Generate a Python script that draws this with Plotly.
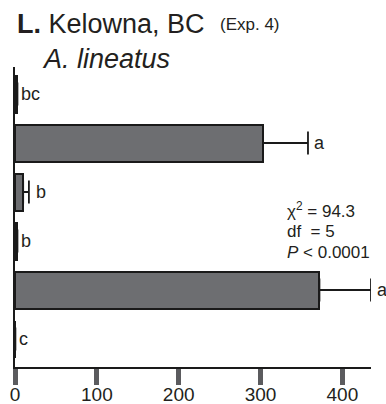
import plotly.graph_objects as go

# Mean catches per treatment (top to bottom) with one-sided SE and letter groups
treatment_pos = [0, 1, 2, 3, 4, 5]
mean_catch = [3, 303, 10, 3, 372, 0.5]
se_catch = [0, 55, 7, 0, 63, 0]
groups = ["bc", "a", "b", "b", "a", "c"]
x_ticks = [0, 100, 200, 300, 400]

stats_lines = ["χ<sup>2</sup> = 94.3", "df  = 5", "<i>P</i> < 0.0001"]

FONT = "Liberation Sans, Arial, sans-serif"
L, R, T, B = 15, 15, 67, 37
W, H = 386, 404
PW, PH = W - L - R, H - T - B


def px_x(px):
    return (px - L) / PW


def px_y(py):
    return (H - B - py) / PH


fig = go.Figure()
fig.add_trace(go.Bar(
    x=mean_catch, y=treatment_pos, orientation="h", width=0.755,
    marker=dict(color="#6d6e71", line=dict(color="#1a1a1a", width=2)),
    error_x=dict(type="data", array=se_catch, symmetric=False, arrayminus=[0] * 6,
                 color="#1a1a1a", thickness=1.8, width=11.5, visible=True),
    cliponaxis=False, showlegend=False, hoverinfo="skip",
))

annotations = []
for i, (m, s, g) in enumerate(zip(mean_catch, se_catch, groups)):
    xs = 4 if s > 0 else 2
    if g == "b" and s > 0:
        xs = 5
    annotations.append(dict(
        x=m + s, y=treatment_pos[i], xref="x", yref="y", text=g, showarrow=False,
        xanchor="left", yanchor="middle", xshift=xs,
        font=dict(family=FONT, size=18, color="#231f20"),
    ))

stat_y = [210, 231, 252]
for txt, py in zip(stats_lines, stat_y):
    annotations.append(dict(
        x=px_x(285), y=px_y(py), xref="paper", yref="paper", text=txt,
        showarrow=False, xanchor="left", yanchor="middle",
        font=dict(family=FONT, size=17, color="#231f20"),
    ))

annotations += [
    dict(x=px_x(15), y=px_y(24), xref="paper", yref="paper",
         text="<b>L.</b> Kelowna, BC", showarrow=False, xanchor="left", yanchor="middle",
         font=dict(family=FONT, size=27, color="#231f20")),
    dict(x=px_x(218), y=px_y(24), xref="paper", yref="paper",
         text="(Exp. 4)", showarrow=False, xanchor="left", yanchor="middle",
         font=dict(family=FONT, size=17, color="#231f20")),
    dict(x=px_x(40), y=px_y(59), xref="paper", yref="paper",
         text="<i>A. lineatus</i>", showarrow=False, xanchor="left", yanchor="middle",
         font=dict(family=FONT, size=27, color="#231f20")),
]

fig.update_layout(
    width=W, height=H, margin=dict(l=L, r=R, t=T, b=B, autoexpand=False),
    paper_bgcolor="white", plot_bgcolor="white",
    font=dict(family=FONT, color="#231f20"),
    annotations=annotations, bargap=0,
    xaxis=dict(range=[0, 435], tickvals=x_ticks, ticks="outside", ticklen=16,
               tickwidth=5, tickcolor="#5b5b5e", showline=True, linecolor="#1a1a1a",
               linewidth=2, showgrid=False, zeroline=False, ticklabelstandoff=-7,
               automargin=False,
               tickfont=dict(family=FONT, size=19, color="#231f20")),
    yaxis=dict(range=[5.571, -0.551], showticklabels=False, ticks="", showline=True,
               linecolor="#1a1a1a", linewidth=2, showgrid=False, zeroline=False,
               automargin=False),
)

fig.write_html("out.html")
